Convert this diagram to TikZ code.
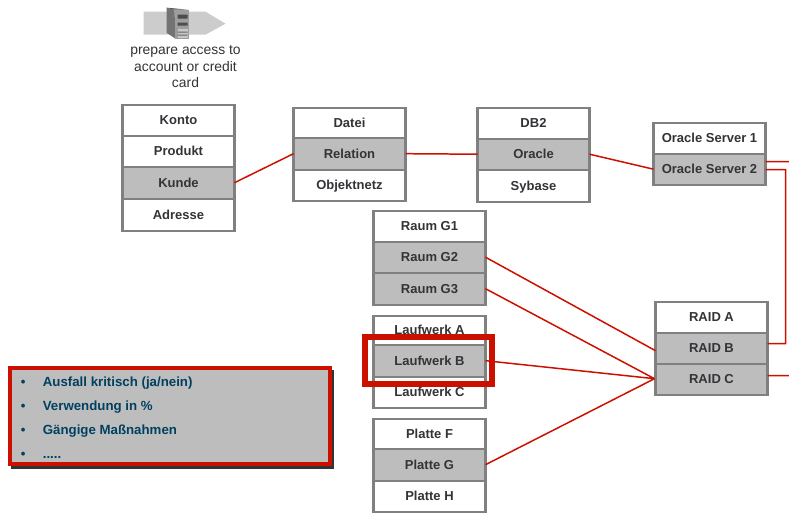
\documentclass[tikz,border=0pt]{standalone}
\usepackage{fontspec}
\setmainfont{Liberation Sans}
\definecolor{cellline}{RGB}{128,128,128}
\definecolor{cellgrey}{RGB}{189,189,189}
\definecolor{celltext}{RGB}{51,51,56}
\definecolor{linkred}{RGB}{204,16,0}
\definecolor{listblue}{RGB}{0,64,96}
\tikzset{
  cell/.style={draw=cellline,line width=1.15pt,fill=white,minimum width=112*0.02cm,inner sep=0pt,outer sep=0pt,text=celltext,text height=5.4pt,text depth=0pt,font=\fontsize{7.4pt}{8pt}\selectfont\bfseries,anchor=north west},
  hot/.style={cell,fill=cellgrey},
  link/.style={draw=linkred,line width=0.85pt},
  listitem/.style={anchor=west,inner sep=0pt,text=listblue,text height=5.4pt,text depth=0pt,font=\fontsize{7.55pt}{8pt}\selectfont\bfseries}
}
\newcommand{\cellat}[6]{\node[#1,minimum height=#5*0.02cm] (#2) at (#3,#4) {#6};}
\begin{document}
\begin{tikzpicture}[x=0.02cm,y=-0.02cm]
  \useasboundingbox (-0.5,-0.7) rectangle (788.5,516.3);
  % icon
  \fill[black!20] (143,11) -- (205,11) -- (225,23) -- (205,34) -- (143,34) -- cycle;
  \fill[black!55] (166,7) -- (174,9) -- (175,38) -- (166,32) -- cycle;
  \fill[black!70] (166,7) -- (188,9) -- (174,9) -- cycle;
  \fill[black!38] (174,9) rectangle (188,38);
  \fill[black!70] (177,14) rectangle (187,18) (177,22) rectangle (187,25);
  \fill[black!22] (177,28) rectangle (187,37);
  \fill[black!60] (177,31) rectangle (187,32) (177,34) rectangle (187,35);
  \node[font=\fontsize{7.9pt}{9.6pt}\selectfont,align=center,text=celltext,inner sep=0pt] (caption) at (185,66) {prepare access to\\account or credit\\card};
  % links
  \coordinate (offa) at (789,161);
  \coordinate (offb) at (789,375);
  \coordinate (bendt) at (785,169);
  \coordinate (bendb) at (785,343);
  \coordinate (raidin) at (654,378);
  % cells
  \cellat{cell}{konto}{122}{104}{31}{Konto}
  \cellat{cell}{produkt}{122}{135}{31}{Produkt}
  \cellat{hot}{kunde}{122}{166}{32}{Kunde}
  \cellat{cell}{adresse}{122}{198}{32}{Adresse}
  \cellat{cell}{datei}{293}{107}{30}{Datei}
  \cellat{hot}{relation}{293}{137}{32}{Relation}
  \cellat{cell}{objektnetz}{293}{169}{31}{Objektnetz}
  \cellat{cell}{dbb}{477}{107}{31}{DB2}
  \cellat{hot}{oracle}{477}{138}{31}{Oracle}
  \cellat{cell}{sybase}{477}{169}{32}{Sybase}
  \cellat{cell}{srva}{653}{122}{31}{Oracle Server 1}
  \cellat{hot}{srvb}{653}{153}{31}{Oracle Server 2}
  \cellat{cell}{raumi}{373}{210}{31}{Raum G1}
  \cellat{hot}{raumii}{373}{241}{31}{Raum G2}
  \cellat{hot}{raumiii}{373}{272}{32}{Raum G3}
  \cellat{cell}{lwa}{373}{315}{29}{Laufwerk A}
  \cellat{cell}{lwc}{373}{376}{31}{Laufwerk C}
  \cellat{hot}{lwb}{373}{344}{32}{Laufwerk B}
  \cellat{cell}{plf}{373}{418}{30}{Platte F}
  \cellat{hot}{plg}{373}{448}{32}{Platte G}
  \cellat{cell}{plh}{373}{480}{31}{Platte H}
  \cellat{cell}{raida}{655}{301}{31}{RAID A}
  \cellat{hot}{raidb}{655}{332}{31}{RAID B}
  \cellat{hot}{raidc}{655}{363}{31}{RAID C}
  \draw[link]
    (kunde.east) -- (relation.west)
    (relation.east) -- (oracle.west)
    (oracle.east) -- (srvb.west)
    (srvb.east |- offa) -- (offa)
    (srvb.east |- bendt) -- (bendt) -- (bendb) -- (raidb.east |- bendb)
    (raidc.east |- offb) -- (offb)
    (raumii.east) -- (raidb.west |- 0,350)
    (raumiii.east) -- (raidin)
    (lwb.east) -- (raidin)
    (plg.east) -- (raidin)
  ;
  % marker
  \node[draw=linkred,line width=3.4pt,outer sep=0pt,minimum width=127*0.02cm,minimum height=47.5*0.02cm,inner sep=0pt] (marker) at (428,360) {};
  % list
  \fill[black!80] (10,369) rectangle (333.5,468.5);
  \node[draw=linkred,fill=cellgrey,line width=2.3pt,outer sep=0pt,minimum width=320*0.02cm,minimum height=96*0.02cm,inner sep=0pt,anchor=north west] (panel) at (9.5,367.5) {};
  \node[listitem] (bula) at (20,381) {•};
  \node[listitem] (bulb) at (20,405) {•};
  \node[listitem] (bulc) at (20,429) {•};
  \node[listitem] (buld) at (20,453) {•};
  \node[listitem] (ausfall) at (42,381) {Ausfall kritisch (ja/nein)};
  \node[listitem] (verw) at (42,405) {Verwendung in \%};
  \node[listitem] (gaengig) at (42,429) {Gängige Maßnahmen};
  \node[listitem] (dots) at (42,453) {.....};
\end{tikzpicture}
\end{document}
